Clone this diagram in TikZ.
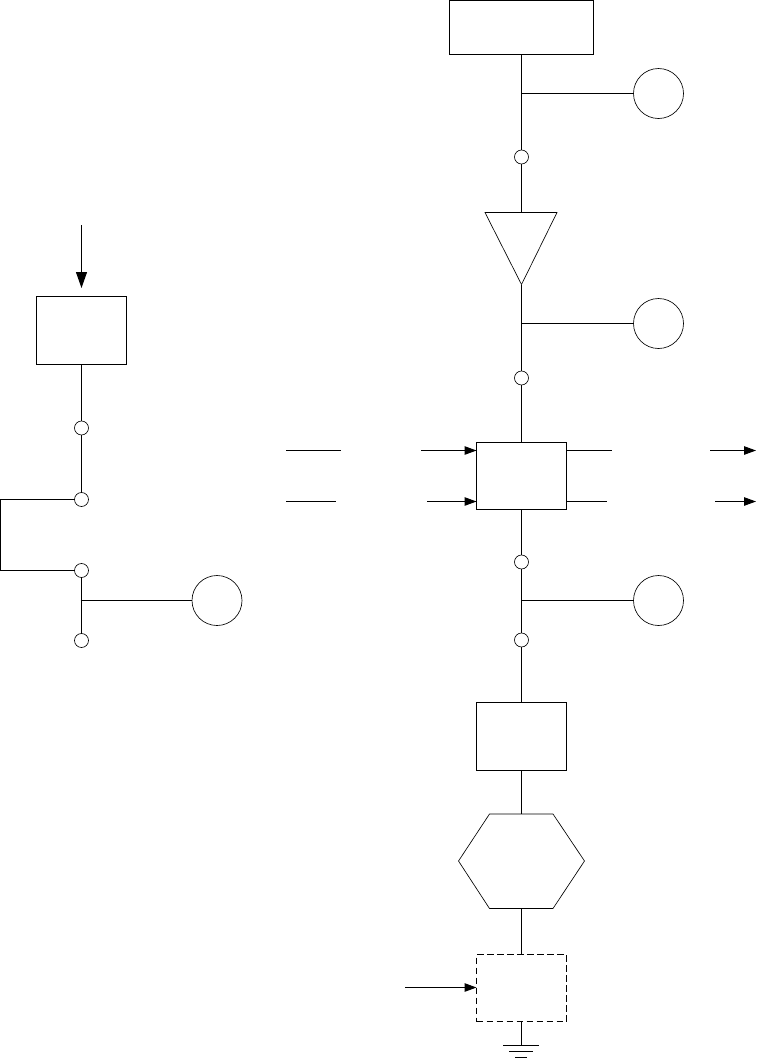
\documentclass[tikz,border=0pt]{standalone}
\usetikzlibrary{arrows.meta}
\tikzset{
  x=1pt,y=-1pt,
  wire/.style={line width=1pt,black},
  flow/.style={wire,-{Triangle[length=12pt,width=8.5pt]}},
  flowbig/.style={wire,-{Triangle[length=16pt,width=11pt]}},
  boxn/.style={draw,line width=1pt,rectangle,inner sep=0pt,outer sep=0pt,fill=white},
  dashbox/.style={boxn,dash pattern=on 6.5pt off 3.5pt},
  big/.style={draw,line width=0.65pt,circle,minimum size=50pt,inner sep=0pt,outer sep=0pt,fill=white},
  small/.style={draw,line width=0.65pt,circle,minimum size=14pt,inner sep=0pt,outer sep=0pt,fill=white},
  thinshape/.style={draw,line width=0.65pt,fill=white,line join=miter},
}
\begin{document}
\begin{tikzpicture}
\useasboundingbox (0,0) rectangle (757,1058);
% right column nodes
\node[boxn,minimum width=144pt,minimum height=54pt] (top) at (521.5,27.5) {};
\node[big] (c1) at (658.5,93.5) {};
\node[small] (s1) at (521.5,157) {};
\coordinate (triL) at (485,212.5);
\coordinate (triR) at (557,212.5);
\coordinate (triB) at (521.5,284.5);
\coordinate (triT) at (521.5,212.5);
\node[big] (c2) at (658.5,323.5) {};
\node[small] (s2) at (521.5,378) {};
\node[boxn,minimum width=90pt,minimum height=67pt] (mid) at (521.5,476) {};
\node[small] (s3) at (521.5,562) {};
\node[big] (c3) at (658.5,600.5) {};
\node[small] (s4) at (521.5,640) {};
\node[boxn,minimum width=90pt,minimum height=68pt] (low) at (521.5,736.5) {};
\coordinate (hexT) at (521.5,814);
\coordinate (hexB) at (521.5,908.5);
\coordinate (hexW) at (458.5,861);
\coordinate (hexE) at (584.5,861);
\coordinate (hexNW) at (489.5,814);
\coordinate (hexNE) at (553,814);
\coordinate (hexSE) at (553,908.5);
\coordinate (hexSW) at (489.5,908.5);
\node[dashbox,minimum width=90pt,minimum height=67pt] (dash) at (521.5,988) {};
% junctions
\coordinate (j1) at (521.5,93.5);
\coordinate (j2) at (521.5,323.5);
\coordinate (j3) at (521.5,600.5);
% ground
\coordinate (g1) at (521.5,1045.5);
\coordinate (g1a) at (503,1045.5);
\coordinate (g1b) at (539,1045.5);
\coordinate (g2a) at (509,1051.5);
\coordinate (g2b) at (533,1051.5);
\coordinate (g3a) at (515,1057.5);
\coordinate (g3b) at (527,1057.5);
% left column
\coordinate (lIn) at (81.5,225);
\coordinate (lInE) at (81.5,288);
\node[boxn,minimum width=90pt,minimum height=68pt] (lb) at (81.5,330.5) {};
\node[small] (l1) at (81.5,428) {};
\node[small] (l2) at (81.5,499.5) {};
\node[small] (l3) at (81.5,570.5) {};
\node[small] (l4) at (81.5,640.5) {};
\node[big] (c4) at (217,600.5) {};
\coordinate (j4) at (80.5,600.5);
\coordinate (lpA) at (0.5,499.5);
\coordinate (lpB) at (0.5,570.5);
% wires right column
\draw[wire] (top.south) -- (s1);
\draw[wire] (j1) -- (c1);
\draw[wire] (s1) -- (triT);
\draw[thinshape] (triL) -- (triR) -- (triB) -- cycle;
\draw[wire] (triB) -- (s2);
\draw[wire] (j2) -- (c2);
\draw[wire] (s2) -- (mid.north);
\draw[wire] (mid.south) -- (s3);
\draw[wire] (s3) -- (s4);
\draw[wire] (j3) -- (c3);
\draw[wire] (s4) -- (low.north);
\draw[wire] (low.south) -- (hexT);
\draw[thinshape] (hexW) -- (hexNW) -- (hexNE) -- (hexE) -- (hexSE) -- (hexSW) -- cycle;
\draw[wire] (hexB) -- (dash.north);
\draw[wire] (dash.south) -- (g1);
\draw[wire] (g1a) -- (g1b);
\draw[wire] (g2a) -- (g2b);
\draw[wire] (g3a) -- (g3b);
% side stubs
\coordinate (a1) at (286,450.5); \coordinate (a2) at (341,450.5);
\coordinate (b1) at (286,501.5); \coordinate (b2) at (336,501.5);
\coordinate (a3) at (421,450.5); \coordinate (b3) at (427,501.5);
\coordinate (mA) at (476.5,450.5); \coordinate (mB) at (476.5,501.5);
\coordinate (oA) at (566.5,450.5); \coordinate (oB) at (566.5,501.5);
\coordinate (oA2) at (612,450.5); \coordinate (oB2) at (607,501.5);
\coordinate (oA3) at (710,450.5); \coordinate (oB3) at (715,501.5);
\coordinate (oA4) at (756,450.5); \coordinate (oB4) at (756,501.5);
\coordinate (dIn) at (405,987.5); \coordinate (dE) at (476.5,987.5);
\draw[wire] (a1) -- (a2);
\draw[wire] (b1) -- (b2);
\draw[flow] (a3) -- (mA);
\draw[flow] (b3) -- (mB);
\draw[wire] (oA) -- (oA2);
\draw[wire] (oB) -- (oB2);
\draw[flow] (oA3) -- (oA4);
\draw[flow] (oB3) -- (oB4);
\draw[flow] (dIn) -- (dE);
% left wires
\draw[flowbig] (lIn) -- (lInE);
\draw[wire] (lb.south) -- (l1);
\draw[wire] (l1) -- (l2);
\draw[wire] (l2) -- (lpA) -- (lpB) -- (l3);
\draw[wire] (l3) -- (l4);
\draw[wire] (j4) -- (c4);
\end{tikzpicture}
\end{document}
